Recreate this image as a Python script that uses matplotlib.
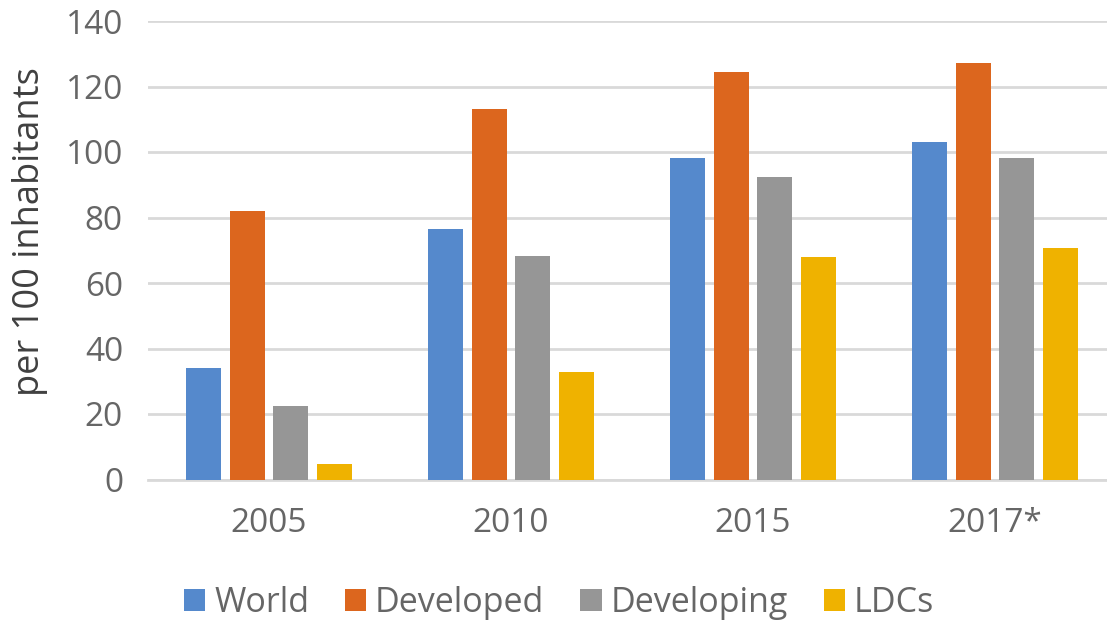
import matplotlib
matplotlib.use("Agg")
import matplotlib.pyplot as plt
import numpy as np

categories = ["2005", "2010", "2015", "2017*"]
series_names = ["World", "Developed", "Developing", "LDCs"]
world = [34.0, 76.4, 98.1, 103.1]
developed = [82.1, 113.0, 124.5, 127.3]
developing = [22.5, 68.2, 92.5, 98.3]
ldcs = [4.6, 32.7, 67.9, 70.6]
yticks = [0, 20, 40, 60, 80, 100, 120, 140]

colors = ["#5589CC", "#DC661E", "#969696", "#EFB200"]

plt.rcParams["font.family"] = ["Open Sans", "DejaVu Sans"]

fig = plt.figure(figsize=(11.07, 6.26), dpi=100)
W, H = 1107, 626
left_px, right_px, top_px, bot_px = 148, 1116, 21, 479.5
ax_w = right_px - left_px
ax_h = bot_px - top_px
ax = fig.add_axes([left_px / W, 1 - bot_px / H, ax_w / W, ax_h / H])

x = np.arange(len(categories))
step = 0.18
width = 0.145
data = [world, developed, developing, ldcs]
for i, (vals, name, c) in enumerate(zip(data, series_names, colors)):
    ax.bar(x + (i - 1.5) * step, vals, width=width, color=c, label=name, zorder=3)

ax.set_xlim(-0.5, len(categories) - 0.5)
ax.set_ylim(0, 140)
ax.set_yticks(yticks)
ax.yaxis.grid(True, color="#D9D9D9", linewidth=2, zorder=0)
ax.set_axisbelow(True)
for s in ["top", "right", "left"]:
    ax.spines[s].set_visible(False)
ax.spines["bottom"].set_color("#D9D9D9")
ax.spines["bottom"].set_linewidth(2)
ax.set_xticks(x)
ax.set_xticklabels(categories)
ax.tick_params(axis="both", length=0, labelsize=24, colors="#666666")
ax.tick_params(axis="x", pad=20)
ax.tick_params(axis="y", pad=18)
ax.set_ylabel("per 100 inhabitants", fontsize=26, color="#404040")
ax.yaxis.set_label_coords((30 - left_px) / ax_w, (bot_px - 232) / ax_h)
ax.yaxis.label.set_verticalalignment("center")

leg = fig.legend(loc="center", bbox_to_anchor=(559 / W, 1 - 603 / H), ncol=4, frameon=False,
                 fontsize=24.5, handlelength=0.62, handleheight=0.62, handletextpad=0.26,
                 columnspacing=1.06, labelcolor="#666666")

fig.savefig("out.png", dpi=100)
